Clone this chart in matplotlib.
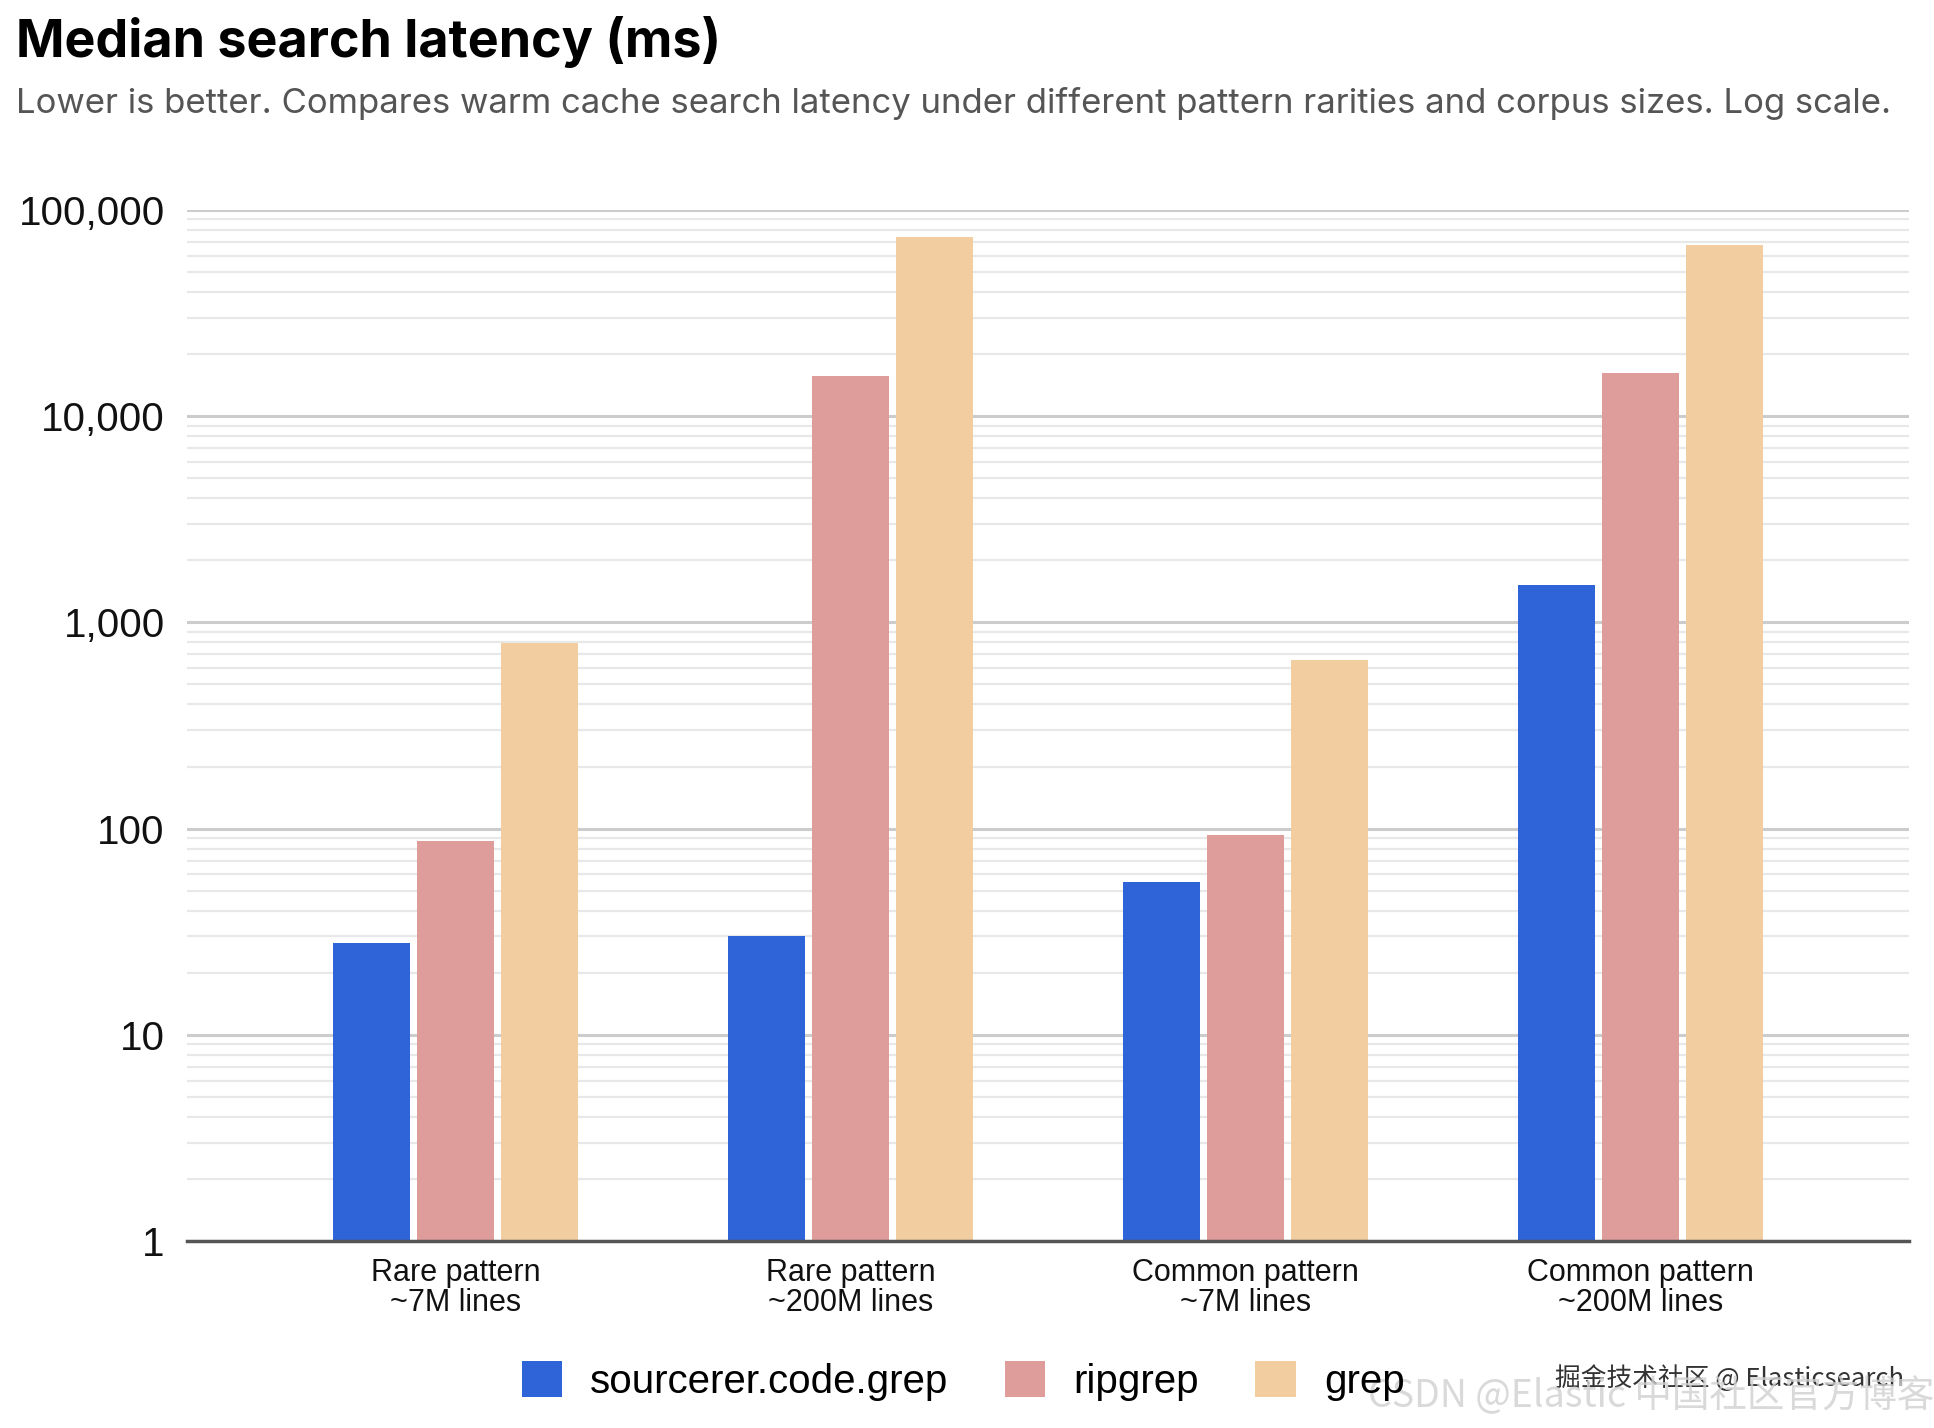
import numpy as np
import matplotlib
matplotlib.use('Agg')
import matplotlib.pyplot as plt
from matplotlib.patches import Patch
from matplotlib.ticker import LogLocator, FuncFormatter, NullFormatter

# data (ms, log scale)
categories = ["Rare pattern\n~7M lines", "Rare pattern\n~200M lines",
              "Common pattern\n~7M lines", "Common pattern\n~200M lines"]
series_names = ["sourcerer.code.grep", "ripgrep", "grep"]
sourcerer = [28, 30, 55, 1520]
ripgrep = [87, 15600, 93, 16250]
grep = [795, 73900, 656, 68000]
colors = ["#2F63D8", "#DE9D9B", "#F1CD9F"]

plt.rcParams['font.family'] = ['Liberation Sans', 'DejaVu Sans']

fig = plt.figure(figsize=(19.34, 14.28), dpi=100)
ax = fig.add_axes([187 / 1934, 1 - 1241 / 1428, (1909 - 187) / 1934, (1241 - 210) / 1428])

x = np.arange(len(categories))
width = 0.194
step = 0.2125
for i, (vals, name) in enumerate(zip([sourcerer, ripgrep, grep], series_names)):
    ax.bar(x + (i - 1) * step, vals, width=width, color=colors[i], label=name, zorder=3)

ax.set_yscale('log')
ax.set_ylim(1, 100000)
ax.set_xlim(-0.68, 3.68)
ax.yaxis.set_major_locator(LogLocator(base=10, numticks=10))
ax.yaxis.set_minor_locator(LogLocator(base=10, subs=np.arange(2, 10), numticks=100))
ax.yaxis.set_major_formatter(FuncFormatter(lambda v, loc: "{:,}".format(int(round(v)))))
ax.yaxis.set_minor_formatter(NullFormatter())
ax.grid(True, which='major', axis='y', color='#cccccc', linewidth=2.2, zorder=0)
ax.grid(True, which='minor', axis='y', color='#e8e8e8', linewidth=1.6, zorder=0)

for s in ['top', 'right', 'left']:
    ax.spines[s].set_visible(False)
ax.spines['bottom'].set_color('#555555')
ax.spines['bottom'].set_linewidth(2.5)
ax.spines['bottom'].set_zorder(4)

ax.tick_params(axis='y', which='both', length=0, pad=16, labelsize=29, labelcolor='#111111')
ax.tick_params(axis='x', length=0, pad=12, labelsize=22, labelcolor='#111111')
ax.set_xticks(x)
ax.set_xticklabels(categories, linespacing=1.0)

fig.text(16 / 1934, 1 - 42 / 1428, "Median search latency (ms)", fontsize=37.5,
         fontweight='bold', family=['Inter', 'DejaVu Sans'], color='#000000', va='center')
fig.text(16 / 1934, 1 - 103 / 1428,
         "Lower is better. Compares warm cache search latency under different pattern rarities and corpus sizes. Log scale.",
         fontsize=25, family=['Inter', 'DejaVu Sans'], color='#555555', va='center')

handles = [Patch(facecolor=c, edgecolor='none') for c in colors]
fig.legend(handles, series_names, loc='center', bbox_to_anchor=(0.498, 1 - 1381 / 1428),
           ncol=3, frameon=False, fontsize=29, handlelength=1.0, handleheight=1.0,
           handletextpad=0.7, columnspacing=1.4)

# watermark
fig.text(1555 / 1934, 1 - 1379 / 1428, "掘金技术社区 @ Elasticsearch", fontsize=18.5,
         family=['Noto Sans CJK SC', 'DejaVu Sans'], color='#333333', va='center')
fig.text(1368 / 1934, 1 - 1397 / 1428, "CSDN @Elastic 中国社区官方博客", fontsize=27,
         family=['Noto Sans CJK SC', 'DejaVu Sans'], color='#d0d0d0', alpha=0.8, va='center')

fig.savefig('out.png', dpi=100, facecolor='white')
